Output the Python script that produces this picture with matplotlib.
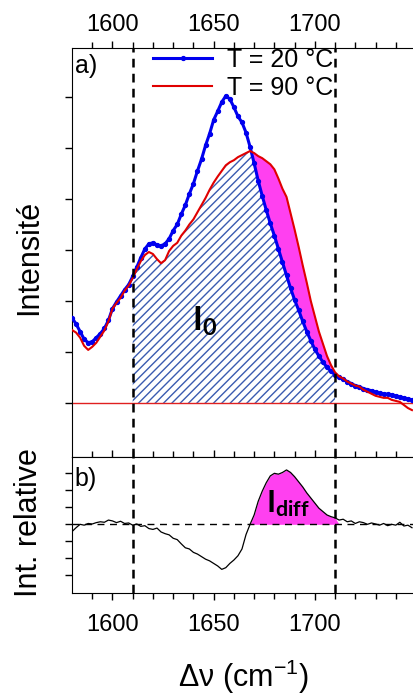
import matplotlib
matplotlib.use("Agg")
import matplotlib.pyplot as plt
import numpy as np

plt.rcParams['font.family'] = ['Liberation Sans', 'DejaVu Sans']
plt.rcParams['mathtext.fontset'] = 'custom'
plt.rcParams['mathtext.rm'] = 'Liberation Sans'
plt.rcParams['mathtext.bf'] = 'Lato:bold'
plt.rcParams['hatch.linewidth'] = 1.0
plt.rcParams['hatch.color'] = '#3a5bb0'

# wavenumber grid (cm-1)
wn = np.arange(1580, 1749, 2)

# a) T = 20 °C
i_20 = [1.67, 1.55, 1.40, 1.25, 1.18, 1.20, 1.28, 1.36, 1.46, 1.62,
        1.85, 1.98, 2.10, 2.22, 2.32, 2.48, 2.66, 2.85, 3.02, 3.12,
        3.14, 3.10, 3.08, 3.12, 3.22, 3.38, 3.50, 3.70, 3.88, 4.10,
        4.30, 4.55, 4.78, 5.05, 5.28, 5.55, 5.72, 5.90, 6.02, 5.96,
        5.80, 5.62, 5.50, 5.30, 5.02, 4.70, 4.36, 4.06, 3.78, 3.52,
        3.28, 3.02, 2.76, 2.50, 2.25, 2.02, 1.82, 1.60, 1.40, 1.22,
        1.05, 0.92, 0.80, 0.70, 0.62, 0.55, 0.50, 0.46, 0.42, 0.38,
        0.34, 0.32, 0.28, 0.26, 0.24, 0.21, 0.19, 0.18, 0.17, 0.16,
        0.14, 0.12, 0.10, 0.08, 0.06]

# a) T = 90 °C
i_90 = [1.43, 1.38, 1.28, 1.12, 1.04, 1.10, 1.18, 1.30, 1.42, 1.60,
        1.85, 1.96, 2.06, 2.20, 2.30, 2.45, 2.62, 2.78, 2.90, 2.96,
        2.92, 2.82, 2.74, 2.80, 2.98, 3.08, 3.14, 3.28, 3.38, 3.50,
        3.60, 3.74, 3.88, 4.02, 4.18, 4.32, 4.44, 4.55, 4.66, 4.72,
        4.76, 4.82, 4.86, 4.90, 4.94, 4.90, 4.84, 4.80, 4.74, 4.68,
        4.58, 4.40, 4.20, 4.04, 3.72, 3.40, 3.06, 2.70, 2.36, 2.00,
        1.70, 1.40, 1.16, 0.92, 0.74, 0.60, 0.52, 0.48, 0.42, 0.38,
        0.34, 0.32, 0.26, 0.22, 0.18, 0.14, 0.12, 0.10, 0.10, 0.06,
        0.04, 0.02, -0.04, -0.10, -0.14]

# b) relative intensity (difference)
i_rel = [-0.43, -0.20, 0.00, -0.05, 0.05, 0.02, 0.10, 0.15, 0.12, 0.25,
         0.20, 0.10, 0.18, 0.05, 0.08, -0.05, 0.02, -0.12, -0.08, -0.25,
         -0.30, -0.22, -0.45, -0.55, -0.62, -0.82, -0.90, -1.15, -1.38, -1.45,
         -1.65, -1.75, -1.90, -2.05, -2.15, -2.30, -2.45, -2.65, -2.55, -2.30,
         -2.10, -1.85, -1.45, -0.60, 0.00, 0.55, 1.35, 1.95, 2.45, 2.85,
         3.00, 2.95, 3.05, 3.20, 3.05, 2.80, 2.50, 2.20, 1.85, 1.55,
         1.25, 0.95, 0.75, 0.55, 0.45, 0.38, 0.25, 0.30, 0.15, 0.20,
         0.05, 0.15, 0.10, 0.00, 0.08, 0.02, -0.05, 0.05, -0.08, 0.00,
         -0.05, 0.12, -0.10, -0.05, -0.20]

band = (1610, 1710)
i_20 = np.array(i_20)
i_90 = np.array(i_90)
i_rel = np.array(i_rel)

fig = plt.figure(figsize=(4.14, 6.96), dpi=100)
ax1 = fig.add_axes([72/414, 239/696, 342/414, 409/696])
ax2 = fig.add_axes([72/414, 103/696, 342/414, 136/696])

inband = (wn >= band[0]) & (wn <= band[1])
ax1.fill_between(wn, 0, np.minimum(i_20, i_90), where=inband,
                 facecolor='white', edgecolor='#3a5bb0', hatch='////',
                 linewidth=0, zorder=1)
ax1.fill_between(wn, i_20, i_90, where=inband & (i_90 >= i_20) & (wn >= 1666),
                 interpolate=True, color='#ff40f0', linewidth=0, zorder=1)
ax1.axhline(0, color='#e02020', lw=1.0, zorder=2)
ax1.plot(wn, i_20, color='#0000ee', lw=2.2, marker='o', ms=2.8,
         label='T = 20 °C', zorder=3)
ax1.plot(wn, i_90, color='#e00000', lw=1.5, label='T = 90 °C', zorder=4)
for xv in band:
    ax1.axvline(xv, color='black', lw=1.8, ls=(0, (3.5, 2.5)), zorder=5)

ax1.legend(loc='upper left', bbox_to_anchor=(0.237, 1.0), frameon=False,
           fontsize=18, handlelength=2.36, handletextpad=0.6, numpoints=1,
           borderpad=0, borderaxespad=0, labelspacing=0.15)
ax1.text(0.008, 0.985, 'a)', transform=ax1.transAxes, fontsize=18,
         ha='left', va='top')
ax1.text(1645.5, 1.6, r'$\mathbf{I_0}$', fontsize=24, ha='center', va='center')

ax1.set_xlim(1580, 1749)
ax1.set_ylim(-1.06, 6.96)
ax1.set_yticks(range(0, 7))
ax1.set_yticklabels([])
ax1.set_xticks([1600, 1650, 1700])
ax1.set_xticks(np.arange(1590, 1750, 10), minor=True)
ax1.tick_params(axis='x', which='both', top=True, bottom=False,
                labeltop=True, labelbottom=False, direction='out')
ax1.tick_params(axis='both', which='major', length=5, width=1, labelsize=17)
ax1.tick_params(axis='both', which='minor', length=4, width=1)
ax1.spines['right'].set_visible(False)

# b)
ax2.fill_between(wn, 0, i_rel, where=(wn >= 1668) & (wn <= band[1]) & (i_rel >= 0),
                 interpolate=True, color='#ff40f0', linewidth=0, zorder=1)
ax2.axhline(0, color='black', lw=1.0, ls=(0, (5, 4)), zorder=2)
ax2.plot(wn, i_rel, color='black', lw=0.9, zorder=3)
for xv in band:
    ax2.axvline(xv, color='black', lw=1.8, ls=(0, (3.5, 2.5)), zorder=5)
ax2.text(0.008, 0.93, 'b)', transform=ax2.transAxes, fontsize=18,
         ha='left', va='top')
ax2.text(1686.5, 1.2, r'$\mathbf{I_{diff}}$', fontsize=22, ha='center', va='center')

ax2.set_xlim(1580, 1749)
ax2.set_ylim(-4.04, 3.96)
ax2.set_yticks(range(-3, 4))
ax2.set_yticklabels([])
ax2.set_xticks([1600, 1650, 1700])
ax2.set_xticks(np.arange(1590, 1750, 10), minor=True)
ax2.tick_params(axis='x', which='both', top=True, bottom=True, direction='out')
ax2.tick_params(axis='x', which='major', pad=10)
ax2.tick_params(axis='both', which='major', length=5, width=1, labelsize=17)
ax2.tick_params(axis='both', which='minor', length=4, width=1)
ax2.spines['right'].set_visible(False)

fig.text(29/414, 1 - 257/696, 'Intensité', rotation=90, fontsize=22,
         ha='center', va='center')
fig.text(29/414, 1 - 523/696, 'Int. relative', rotation=90, fontsize=22,
         ha='center', va='center')
fig.text(243/414, 1 - 677/696, 'Δν (cm$^{\\mathregular{-1}}$)', fontsize=22,
         ha='center', va='center')

fig.savefig('out.png', dpi=100)
